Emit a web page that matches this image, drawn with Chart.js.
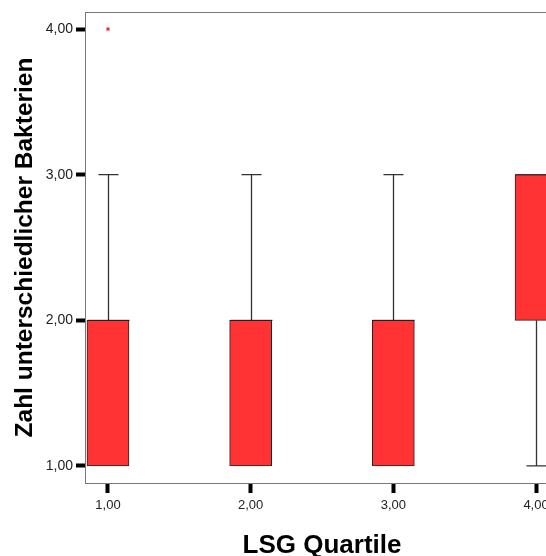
<!DOCTYPE html>
<html>
<head>
<meta charset="utf-8">
<script src="https://cdn.jsdelivr.net/npm/chart.js@4"></script>
<style>
  html, body { margin: 0; padding: 0; background: #fff; overflow: hidden; }
  #wrap { width: 600px; height: 556px; }
</style>
</head>
<body>
<div id="wrap"><canvas id="boxChart" width="600" height="556"></canvas></div>
<script>
// box plot values per quartile group
const groups = [1, 2, 3, 4];
const mins = [1, 1, 1, 1];
const q1s = [1, 1, 1, 2];
const medians = [2, 2, 2, 3];
const q3s = [2, 2, 2, 3];
const maxs = [3, 3, 3, 3];
const outliers = [{ x: 1, y: 4 }];
const tickValues = [1, 2, 3, 4];

const fmt = v => v.toFixed(2).replace(".", ",");

// whiskers, caps and medians on top of the bars
const whiskerPlugin = {
  id: "whiskers",
  afterDatasetsDraw(chart) {
    const ctx = chart.ctx;
    const xs = chart.scales.x, ys = chart.scales.y;
    const a = chart.chartArea;
    ctx.save();
    ctx.beginPath();
    ctx.rect(a.left, a.top, a.right - a.left, a.bottom - a.top);
    ctx.clip();
    groups.forEach((g, i) => {
      const x = Math.round(xs.getPixelForValue(g)) + 0.5;
      ctx.strokeStyle = "#333";
      ctx.lineWidth = 1.3;
      const pairs = [[q3s[i], maxs[i]], [q1s[i], mins[i]]];
      pairs.forEach(([from, to]) => {
        if (from === to) return;
        const y0 = ys.getPixelForValue(from), y1 = ys.getPixelForValue(to);
        ctx.beginPath();
        ctx.moveTo(x, y0);
        ctx.lineTo(x, y1);
        ctx.moveTo(x - 10, y1);
        ctx.lineTo(x + 10, y1);
        ctx.stroke();
      });
      const ym = ys.getPixelForValue(medians[i]);
      ctx.beginPath();
      ctx.strokeStyle = "#222";
      ctx.lineWidth = 1;
      ctx.moveTo(x - 21, ym);
      ctx.lineTo(x + 21, ym);
      ctx.stroke();
    });
    ctx.restore();

    // plot frame
    ctx.save();
    ctx.strokeStyle = "#777";
    ctx.lineWidth = 1;
    ctx.strokeRect(a.left + 0.5, a.top + 0.5, a.right - a.left, a.bottom - a.top);
    ctx.restore();
  }
};

new Chart(document.getElementById("boxChart"), {
  type: "bar",
  data: {
    datasets: [
      {
        type: "bar",
        data: groups.map((g, i) => ({ x: g, y: [q1s[i], q3s[i]] })),
        backgroundColor: "#ff3333",
        borderColor: "#222",
        borderWidth: 1,
        borderSkipped: false,
        barThickness: 42
      },
      {
        type: "scatter",
        data: outliers,
        pointStyle: "star",
        radius: 2,
        borderColor: "#ff2020",
        borderWidth: 1
      }
    ]
  },
  options: {
    responsive: false,
    animation: false,
    layout: { padding: { top: 12, right: 41, left: 0, bottom: 0 } },
    plugins: { legend: { display: false }, tooltip: { enabled: false } },
    scales: {
      x: {
        type: "linear",
        offset: false,
        min: 0.839,
        max: 4.161,
        afterBuildTicks: s => { s.ticks = tickValues.map(v => ({ value: v })); },
        afterFit: s => { s.height = 73; },
        grid: { offset: false, drawOnChartArea: false, tickLength: 10, tickWidth: 4, tickColor: "#000" },
        border: { color: "#777", width: 1 },
        ticks: {
          padding: 5,
          color: "#222",
          font: { family: "Liberation Sans, Arial", size: 13 },
          callback: v => fmt(v)
        },
        title: {
          display: true,
          text: "LSG Quartile",
          color: "#000",
          font: { family: "Liberation Sans, Arial", size: 26, weight: "bold", lineHeight: 1 },
          padding: { top: 0, bottom: -3 }
        }
      },
      y: {
        min: 0.883,
        max: 4.117,
        afterBuildTicks: s => { s.ticks = tickValues.map(v => ({ value: v })); },
        afterFit: s => { s.width = 85; },
        grid: { drawOnChartArea: false, tickLength: 9, tickWidth: 4, tickColor: "#000" },
        border: { color: "#777", width: 1 },
        ticks: {
          padding: 3,
          color: "#222",
          font: { family: "Liberation Sans, Arial", size: 14 },
          callback: v => fmt(v)
        },
        title: {
          display: true,
          text: "Zahl unterschiedlicher Bakterien",
          color: "#000",
          font: { family: "Liberation Sans, Arial", size: 24.5, weight: "bold", lineHeight: 1 },
          padding: { top: 13, bottom: 0 }
        }
      }
    }
  },
  plugins: [whiskerPlugin]
});
</script>
</body>
</html>
